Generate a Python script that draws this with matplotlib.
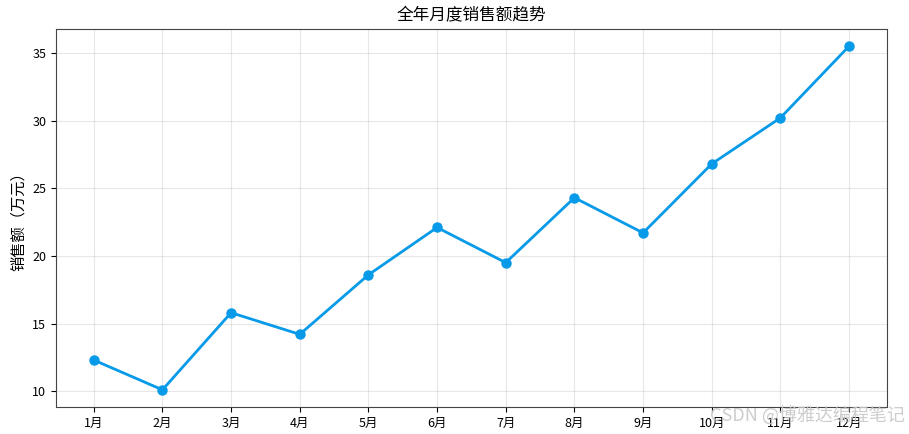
import matplotlib
matplotlib.use('Agg')
import matplotlib.pyplot as plt

plt.rcParams['font.family'] = ['Noto Sans CJK SC', 'DejaVu Sans']
plt.rcParams['axes.unicode_minus'] = False

# Monthly sales (万元)
months = ['1月', '2月', '3月', '4月', '5月', '6月',
          '7月', '8月', '9月', '10月', '11月', '12月']
sales = [12.3, 10.1, 15.8, 14.2, 18.6, 22.1, 19.5, 24.3, 21.7, 26.8, 30.2, 35.5]

fig = plt.figure(figsize=(9.09, 4.34), dpi=100)
ax = fig.add_axes([0.0616, 0.0622, 0.914, 0.871])

ax.plot(months, sales, color='#069AE8', linewidth=2, marker='o', markersize=6.5)

ax.set_title('全年月度销售额趋势', fontsize=12)
ax.set_ylabel('销售额（万元）', fontsize=11)
ax.tick_params(labelsize=9)
ax.grid(True, alpha=0.3)
for s in ax.spines.values():
    s.set_color('#444444')

# CSDN watermark
fig.text(0.996, 0.022, 'CSDN @博雅达编程笔记', fontsize=13, color='#c8c8c8',
         ha='right', va='bottom', alpha=0.9)

fig.savefig('out.png', dpi=100)
